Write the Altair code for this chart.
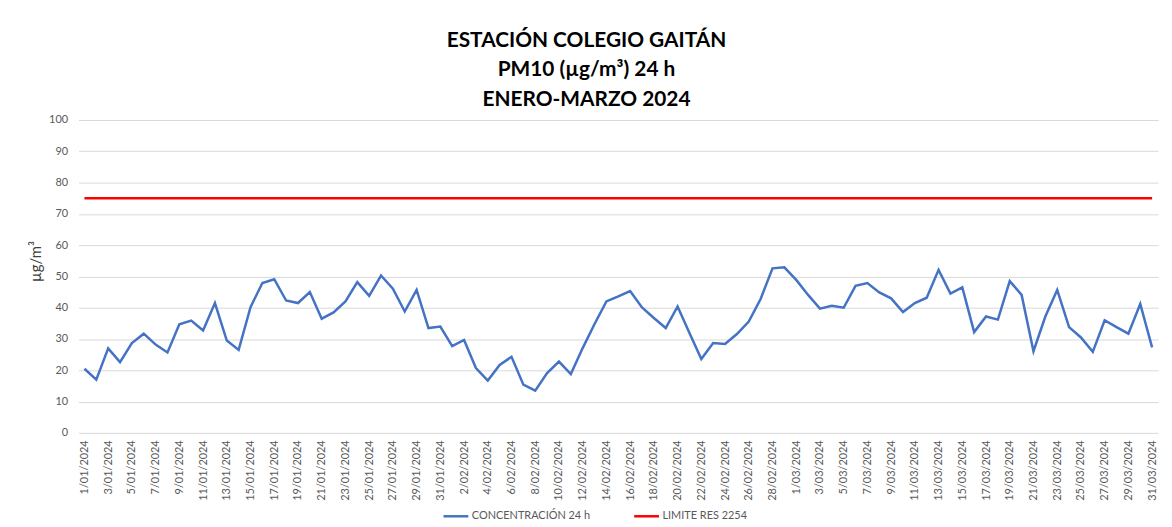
import altair as alt
import pandas as pd

fechas = [f"{d.day}/{d.month:02d}/{d.year}" for d in pd.date_range("2024-01-01", "2024-03-31")]

concentracion = [20.5, 17.0, 27.0, 22.6, 28.7, 31.7, 28.2, 25.7, 34.7, 35.9,
                 32.7, 41.5, 29.5, 26.5, 40.2, 47.9, 49.1, 42.3, 41.5, 45.0,
                 36.5, 38.5, 42.0, 48.2, 43.8, 50.3, 46.1, 38.8, 45.7, 33.5,
                 34.0, 27.7, 29.7, 20.7, 16.7, 21.7, 24.3, 15.4, 13.5, 19.1,
                 22.8, 18.8, 27.1, 34.8, 42.0, 43.6, 45.3, 40.1, 36.7, 33.5,
                 40.4, 31.9, 23.6, 28.7, 28.4, 31.6, 35.6, 42.8, 52.6, 52.9,
                 48.9, 44.1, 39.7, 40.6, 40.0, 47.0, 47.9, 44.9, 43.0, 38.6,
                 41.5, 43.2, 52.1, 44.5, 46.5, 32.2, 37.2, 36.2, 48.5, 44.1,
                 26.1, 37.2, 45.7, 33.8, 30.5, 25.9, 36.0, 33.8, 31.7, 41.2, 27.3]
limite = [75] * len(fechas)

series = ["CONCENTRACIÓN 24 h", "LIMITE RES 2254"]
colores = ["#4472C4", "#FF0000"]

df = pd.DataFrame({
    "fecha": fechas + fechas,
    "valor": concentracion + limite,
    "serie": [series[0]] * len(fechas) + [series[1]] * len(fechas),
})

FONT = "Lato"

chart = alt.Chart(df).mark_line(strokeWidth=2.5).encode(
    x=alt.X("fecha:O", sort=fechas,
            scale=alt.Scale(type="point", padding=0.5),
            axis=alt.Axis(values=fechas[::2], labelAngle=-90, ticks=False, domain=False,
                          grid=False, title=None, labelFontSize=11, labelColor="#595959",
                          labelPadding=7, labelFont=FONT)),
    y=alt.Y("valor:Q", scale=alt.Scale(domain=[0, 100]),
            axis=alt.Axis(values=list(range(0, 101, 10)), ticks=False, domain=False,
                          gridColor="#d9d9d9", labelFontSize=11, labelColor="#595959",
                          labelPadding=11, labelFont=FONT,
                          title="µg/m³", titleFont=FONT, titleFontSize=15,
                          titleFontWeight="normal", titleColor="#404040",
                          titleX=-35, titleY=142)),
    color=alt.Color("serie:N", scale=alt.Scale(domain=series, range=colores),
                    legend=alt.Legend(title=None, orient="none", direction="horizontal",
                                      legendX=366, legendY=385, symbolType="stroke",
                                      symbolSize=625, symbolStrokeWidth=2.5,
                                      labelFontSize=11, labelColor="#595959",
                                      labelFont=FONT, labelOffset=2, columnPadding=38)),
    detail="serie:N",
).properties(
    width=1087,
    height=315,
    autosize=alt.AutoSizeParams(type="none"),
    padding={"left": 71, "top": 111, "right": 6, "bottom": 93},
    title=alt.TitleParams(
        text=["ESTACIÓN COLEGIO GAITÁN", "PM10 (µg/m³) 24 h", "ENERO-MARZO 2024"],
        font=FONT, fontSize=21, fontWeight="bold", color="#000000",
        anchor="middle", lineHeight=30, offset=4, dx=-32),
).configure_view(stroke=None)

chart.save("out.html", embed_options={"renderer": "svg", "actions": False})
